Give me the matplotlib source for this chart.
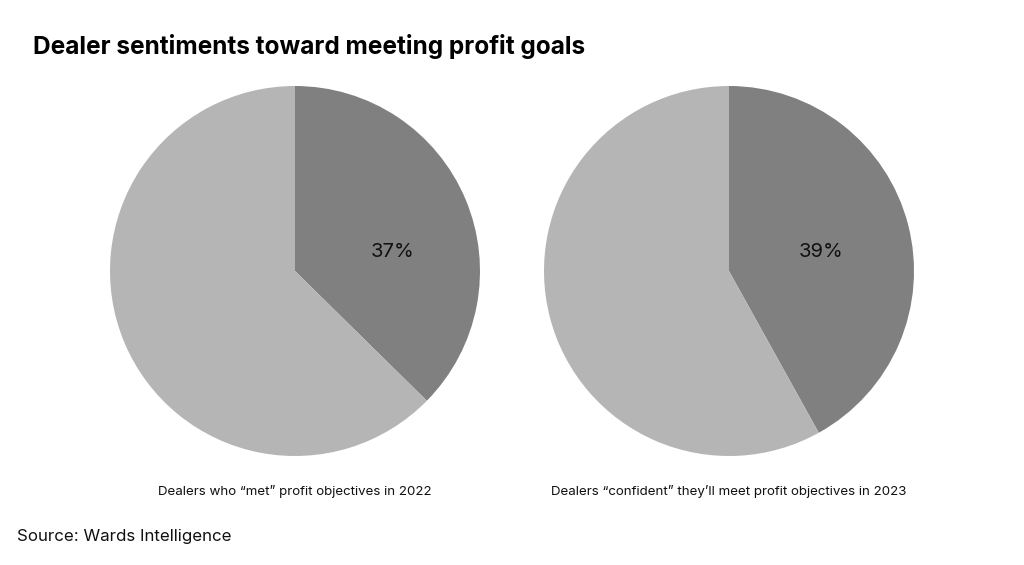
import matplotlib.pyplot as plt

# shares as drawn; the rest of each pie is the other answers
met_2022 = [37, 62]
confident_2023 = [39, 54]
labels_pct = ['37%', '39%']
captions = ['Dealers who \u201cmet\u201d profit objectives in 2022',
            'Dealers \u201cconfident\u201d they\u2019ll meet profit objectives in 2023']
colors = ['#808080', '#b5b5b5']

plt.rcParams['font.family'] = ['Inter', 'DejaVu Sans']

W, H = 1024, 565
fig = plt.figure(figsize=(W / 100, H / 100), dpi=100)
fig.patch.set_facecolor('white')

def px_axes(cx, cy, r):
    return fig.add_axes([(cx - r) / W, 1 - (cy + r) / H, 2 * r / W, 2 * r / H])

pies = [(met_2022, 295, 271, 0.53), (confident_2023, 729, 271, 0.50)]
for i, (vals, cx, cy, lx) in enumerate(pies):
    ax = px_axes(cx, cy, 185)
    ax.pie(vals, colors=colors, startangle=90, counterclock=False,
           radius=1, wedgeprops=dict(linewidth=0))
    ax.set_xlim(-1, 1)
    ax.set_ylim(-1, 1)
    ax.set_aspect('equal')
    ax.axis('off')
    ax.text(lx, 0.076, labels_pct[i], ha='center', va='baseline',
            fontsize=14.5, color='#111111')
    fig.text(cx / W, 1 - 495 / H, captions[i], ha='center', va='baseline',
             fontsize=9.6, color='#111111')

fig.text(33 / W, 1 - 54 / H, 'Dealer sentiments toward meeting profit goals',
         ha='left', va='baseline', fontsize=17.6, fontweight='bold', color='black')
fig.text(17 / W, 1 - 541 / H, 'Source: Wards Intelligence',
         ha='left', va='baseline', fontsize=12.2, color='#111111')

fig.savefig('out.png', dpi=100)
